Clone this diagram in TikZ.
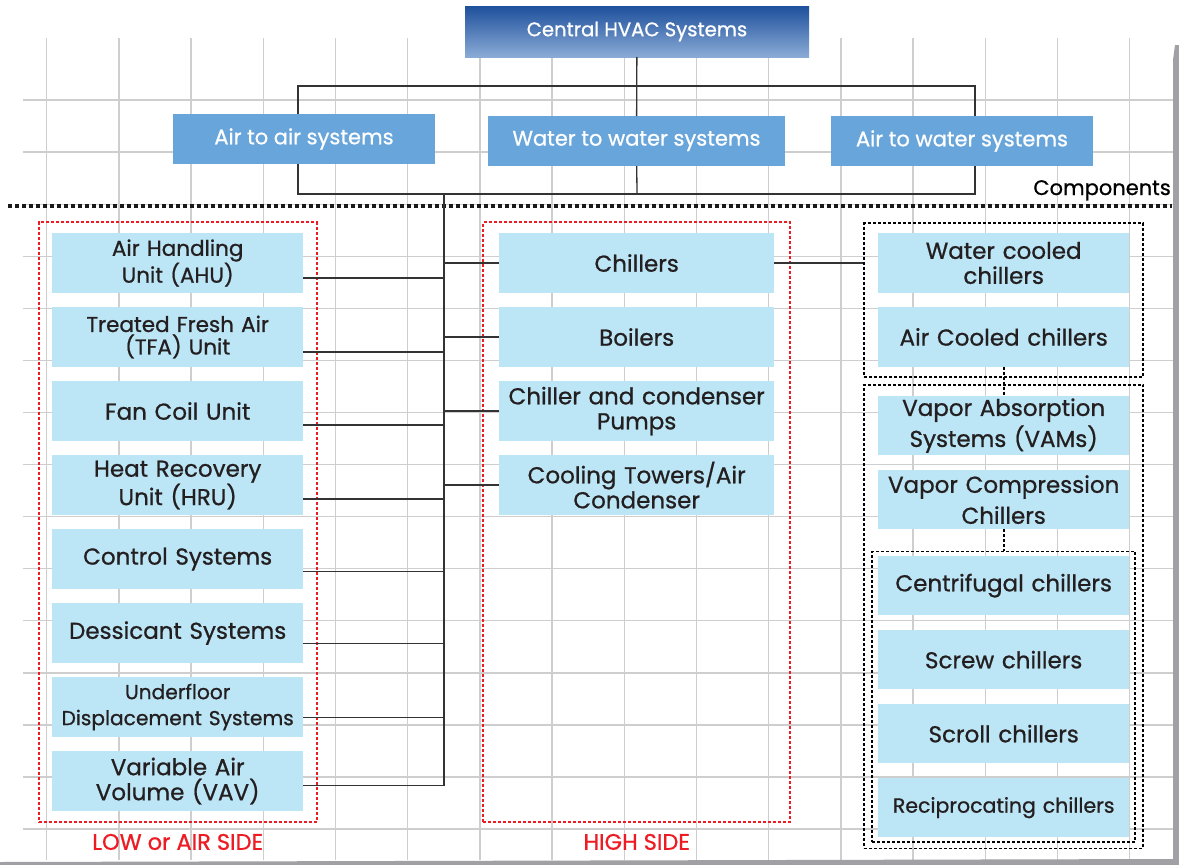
\documentclass[tikz,border=0pt]{standalone}
\usepackage{fontspec}
\setmainfont{Poppins}[FakeBold=0.8]
\usetikzlibrary{matrix,positioning,fit}
\definecolor{hvacdark}{RGB}{30,80,156}
\definecolor{hvaclight}{RGB}{138,171,214}
\definecolor{sysblue}{RGB}{104,165,219}
\definecolor{compblue}{RGB}{188,229,245}
\definecolor{comptext}{RGB}{35,31,32}
\definecolor{sidered}{RGB}{237,28,36}
\definecolor{gridgray}{RGB}{206,206,206}
\definecolor{edgegray}{RGB}{160,160,165}
\tikzset{
  system/.style={fill=sysblue, text=white, font=\fontsize{21}{23}\selectfont, minimum height=50pt, inner sep=0pt, outer sep=0pt},
  comp/.style={fill=compblue, text=comptext, font=\fontsize{23}{25}\selectfont, align=center, inner sep=0pt, outer sep=0pt, anchor=center},
  compsmall/.style={font=\fontsize{21.5}{22.5}\selectfont},
  compwide/.style={font=\fontsize{20.2}{26}\selectfont},
  widespace/.style={font=\fontsize{23}{31}\selectfont},
  link/.style={draw=black!80, line width=1.3pt},
  gridline/.style={draw=gridgray, line width=1.3pt},
  sepline/.style={draw=black!90, line width=4pt, dash pattern=on 4pt off 3pt},
  sidebox/.style={draw=sidered, line width=1.6pt, dash pattern=on 3pt off 2pt},
  sidelabel/.style={text=sidered, font=\fontsize{22.5}{24}\selectfont, inner sep=0pt},
  chillgroup/.style={draw=black, line width=1.6pt, dash pattern=on 3pt off 2pt},
  dotlink/.style={draw=black, line width=1.6pt, dash pattern=on 3pt off 2pt}
}
\begin{document}
\begin{tikzpicture}[x=1pt, y=-1pt]
  \fill[white] (0,0) rectangle (1179,865);
  \useasboundingbox (0,0) rectangle (1179,865);
  % grid paper
  \foreach \i in {0,...,15}
    \draw[gridline] ({46.7+72.2*\i},38) -- ++(0,822);
  \foreach \j in {0,...,14}
    \draw[gridline] (23,{100+52.08*\j}) -- (1174,{100+52.08*\j});
  \fill[edgegray] (1175,45) -- (1179,45) -- (1179,865) -- (0,865) -- (0,862) -- (1173,859) -- (1173,60) -- cycle;

  % systems
  \node[system, top color=hvacdark, bottom color=hvaclight, minimum width=344pt, minimum height=51pt, font=\fontsize{19.6}{22}\selectfont] (central) at (637,31.5) {Central HVAC Systems};
  \node[system, minimum width=262pt] (airair) at (304,139) {Air to air systems};
  \node[system, minimum width=297pt] (waterwater) at (636.5,141) {Water to water systems};
  \node[system, minimum width=262pt] (airwater) at (962,141) {Air to water systems};
  \coordinate (topbus) at (637,86);
  \coordinate (botbus) at (637,194);
  \coordinate (spine) at (444,194);

  \draw[sepline] (8,206) -- (1172,206);
  \node[anchor=base east, font=\fontsize{21}{23}\selectfont, inner sep=0pt] (complabel) at (1171,195) {Components};

  % low side and high side
  \matrix (m) [matrix of nodes, row sep=14.3pt, column sep=196pt, matrix anchor=north west, inner sep=0pt,
    column 1/.style={nodes={comp, text width=251pt, minimum height=59.7pt}},
    column 2/.style={nodes={comp, text width=275pt, minimum height=59.7pt}}] at (52,233) {
    |[compsmall]| {Air Handling\\Unit (AHU)} & Chillers \\
    |[compsmall]| {Treated Fresh Air\\(TFA) Unit} & Boilers \\
    Fan Coil Unit & {Chiller and condenser\\Pumps} \\
    {Heat Recovery\\Unit (HRU)} & {Cooling Towers/Air\\Condenser} \\
    Control Systems & \\
    Dessicant Systems & \\
    |[compwide]| {Underfloor\\Displacement Systems} & \\
    {Variable Air\\Volume (VAV)} & \\
  };

  % chiller types
  \matrix (r) [matrix of nodes, row sep=14.5pt, matrix anchor=north west, inner sep=0pt,
    nodes={comp, text width=251pt, minimum height=59.5pt}] at (878,233) {
    {Water cooled\\chillers} \\
    Air Cooled chillers \\[14.7pt]
    |[widespace]| {Vapor Absorption\\Systems (VAMs)} \\
    |[widespace]| {Vapor Compression\\Chillers} \\[12pt]
    Centrifugal chillers \\
    Screw chillers \\
    Scroll chillers \\
    |[font=\fontsize{20.5}{22}\selectfont]| Reciprocating chillers \\
  };

  \node[sidebox, fit=(m-1-1)(m-8-1), inner xsep=13.5pt, inner ysep=11pt] (lowside) {};
  \node[sidebox, fit=(m-1-2)(m-1-2 |- m-8-1.south), inner xsep=16pt, inner ysep=11pt] (highside) {};
  \node[sidelabel, below=11pt of lowside] (lowlabel) {LOW or AIR SIDE};
  \node[sidelabel, below=11pt of highside] (highlabel) {HIGH SIDE};
  \node[chillgroup, fit=(r-1-1)(r-2-1), inner xsep=14pt, inner ysep=10pt] (cooled) {};
  \node[chillgroup, fit=(r-3-1)(r-8-1), inner xsep=14pt, inner ysep=11pt] (vapor) {};
  \node[chillgroup, fit=(r-5-1)(r-8-1), inner xsep=6pt, inner ysep=4.5pt] (compression) {};

  % connectors
  \draw[link] (central) -- (waterwater);
  \draw[link] ([xshift=-6pt]airair.north) |- (topbus) -| ([xshift=13pt]airwater.north);
  \draw[link] ([xshift=-6pt]airair.south) |- (botbus) -| ([xshift=13pt]airwater.south);
  \draw[link] (waterwater) -- (botbus);
  \draw[link] (spine) |- ([yshift=-4.7pt]m-8-1.east);
  \foreach \r/\dy in {1/15,2/15,3/14,4/14,5/12.3,6/10.3,7/10.3}
    \draw[link] ([yshift=-\dy pt]m-\r-1.east) -- ++(141,0);
  \foreach \r in {1,...,4}
    \draw[link] (m-\r-2) -- (m-\r-2 -| spine);
  \draw[link] (m-1-2) -- (m-1-2 -| cooled.west);
  \draw[dotlink] (r-2-1) -- (r-3-1);
  \draw[dotlink] (r-4-1) -- (compression);
\end{tikzpicture}
\end{document}
